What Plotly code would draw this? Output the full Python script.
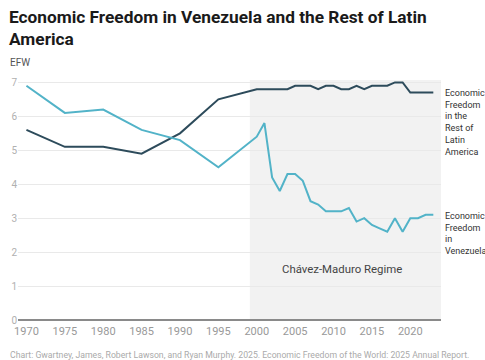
import plotly.graph_objects as go

years_early = [1970, 1975, 1980, 1985, 1990, 1995]
years_annual = list(range(2000, 2024))
years = years_early + years_annual

rest_latam = [5.6, 5.1, 5.1, 4.9, 5.5, 6.5,
              6.8, 6.8, 6.8, 6.8, 6.8, 6.9, 6.9, 6.9, 6.8, 6.9,
              6.9, 6.8, 6.8, 6.9, 6.8, 6.9, 6.9, 6.9, 7.0, 7.0,
              6.7, 6.7, 6.7, 6.7]
venezuela = [6.9, 6.1, 6.2, 5.6, 5.3, 4.5,
             5.4, 5.8, 4.2, 3.8, 4.3, 4.3, 4.1, 3.5, 3.4, 3.2,
             3.2, 3.2, 3.3, 2.9, 3.0, 2.8, 2.7, 2.6, 3.0, 2.6,
             3.0, 3.0, 3.1, 3.1]

x_ticks = [1970, 1975, 1980, 1985, 1990, 1995, 2000, 2005, 2010, 2015, 2020]
y_ticks = [0, 1, 2, 3, 4, 5, 6, 7]
regime_start, regime_end = 1999.1, 2024.0

DARK = "#2d4b5b"
LIGHT = "#52b3c8"
FONT = "Roboto"

fig = go.Figure()
fig.add_trace(go.Scatter(x=years, y=rest_latam, mode="lines",
                         line=dict(color=DARK, width=2), hoverinfo="skip"))
fig.add_trace(go.Scatter(x=years, y=venezuela, mode="lines",
                         line=dict(color=LIGHT, width=2), hoverinfo="skip"))

fig.add_shape(type="rect", xref="x", yref="paper", x0=regime_start, x1=regime_end,
              y0=0, y1=1, fillcolor="#f2f2f2", line=dict(width=0), layer="below")

L, R, T, B = 18, 441, 80, 320
W, H = R - L, B - T
def px(x):
    return (x - L) / W
def py(y):
    return (B - y) / H

annots = [
    dict(text="<b>Economic Freedom in Venezuela and the Rest of Latin<br>America</b>",
         x=px(7), y=py(5), xanchor="left", yanchor="top", align="left",
         font=dict(family=FONT, size=17.3, color="#1a1a1a")),
    dict(text="EFW", x=px(8), y=py(62), xanchor="left", yanchor="middle",
         font=dict(family=FONT, size=10, color="#555")),
    dict(text="Economic<br>Freedom<br>in the<br>Rest of<br>Latin<br>America",
         x=px(443), y=py(86), xanchor="left", yanchor="top", align="left",
         font=dict(family=FONT, size=9, color="#333")),
    dict(text="Economic<br>Freedom<br>in<br>Venezuela",
         x=px(443), y=py(209), xanchor="left", yanchor="top", align="left",
         font=dict(family=FONT, size=9, color="#333")),
    dict(text="Chávez-Maduro Regime", x=px(342), y=py(269), xanchor="center",
         yanchor="middle", font=dict(family=FONT, size=11.4, color="#444")),
    dict(text="Chart: Gwartney, James, Robert Lawson, and Ryan Murphy. 2025. Economic Freedom of the World: 2025 Annual Report.",
         x=px(8), y=py(355), xanchor="left", yanchor="middle",
         font=dict(family=FONT, size=8.7, color="#aaa")),
]
for a in annots:
    a.update(xref="paper", yref="paper", showarrow=False)

fig.update_layout(
    width=485, height=360,
    margin=dict(l=L, r=485 - R, t=T, b=360 - B, pad=0),
    paper_bgcolor="white", plot_bgcolor="white",
    showlegend=False,
    annotations=annots,
    font=dict(family=FONT),
    xaxis=dict(range=[1968.9, 2024.0], tickvals=x_ticks, showgrid=False,
               zeroline=False, showline=False, ticks="", automargin=False,
               ticklabelstandoff=3,
               tickfont=dict(family=FONT, size=11, color="#999")),
    yaxis=dict(range=[0, 7.07], tickvals=y_ticks, showgrid=True,
               gridcolor="#e9e9e9", gridwidth=1, zeroline=True,
               zerolinecolor="#8a8a8a", zerolinewidth=2, ticks="", automargin=False,
               tickfont=dict(family=FONT, size=10, color="#b0b0b0")),
)

fig.write_html("out.html", config={"displayModeBar": False},
               post_script="document.body.style.margin='0';document.body.style.overflow='hidden';")
